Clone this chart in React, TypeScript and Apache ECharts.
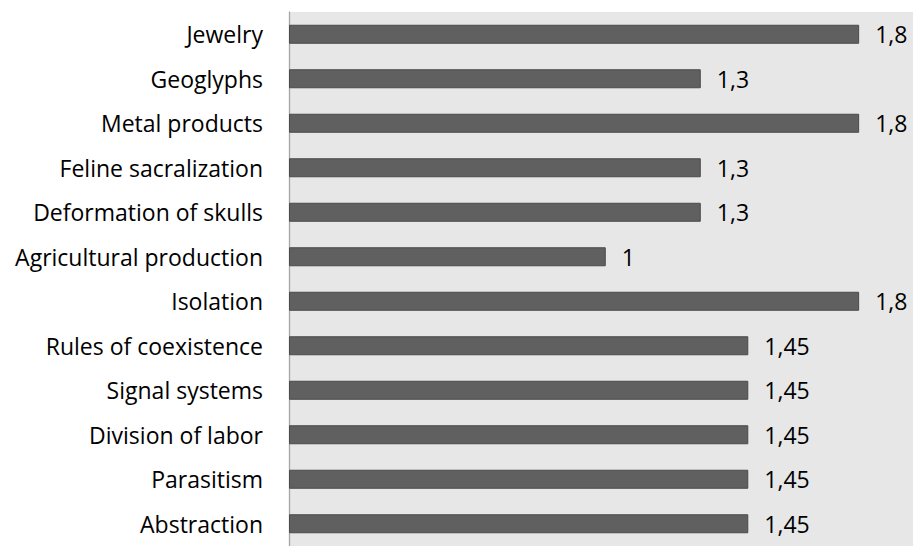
import React, { useEffect, useRef } from "react";
import * as echarts from "echarts";

// Categories listed top to bottom
const categories: string[] = [
  "Jewelry",
  "Geoglyphs",
  "Metal products",
  "Feline sacralization",
  "Deformation of skulls",
  "Agricultural production",
  "Isolation",
  "Rules of coexistence",
  "Signal systems",
  "Division of labor",
  "Parasitism",
  "Abstraction",
];

const values: number[] = [1.8, 1.3, 1.8, 1.3, 1.3, 1, 1.8, 1.45, 1.45, 1.45, 1.45, 1.45];

const FONT = "'Open Sans', 'Noto Sans', sans-serif";

export default function App() {
  const ref = useRef<HTMLDivElement>(null);

  useEffect(() => {
    if (!ref.current) return;
    const chart = echarts.init(ref.current, null, { renderer: "svg" });
    chart.setOption({
      animation: false,
      backgroundColor: "#ffffff",
      grid: {
        show: true,
        left: 289,
        top: 12,
        right: 0,
        height: 542,
        backgroundColor: "#e7e7e7",
        borderWidth: 0,
        containLabel: false,
      },
      xAxis: {
        type: "value",
        min: 0,
        max: 1.97,
        show: false,
      },
      yAxis: {
        type: "category",
        inverse: true,
        data: categories,
        axisLine: { show: true, lineStyle: { color: "#a6a6a6", width: 1.3 } },
        axisTick: { show: false },
        splitLine: { show: false },
        axisLabel: {
          margin: 26,
          color: "#000000",
          fontFamily: FONT,
          fontSize: 23,
        },
      },
      series: [
        {
          type: "bar",
          data: values,
          barWidth: 19,
          itemStyle: {
            color: "#606060",
            borderColor: "#4a4a4a",
            borderWidth: 1,
          },
          label: {
            show: true,
            position: "right",
            distance: 16,
            color: "#000000",
            fontFamily: FONT,
            fontSize: 23,
            formatter: (p: any) => String(p.value).replace(".", ","),
          },
        },
      ],
    });
    return () => chart.dispose();
  }, []);

  return (
    <div
      ref={ref}
      style={{ position: "fixed", left: 0, top: 0, width: 913, height: 546 }}
    />
  );
}
